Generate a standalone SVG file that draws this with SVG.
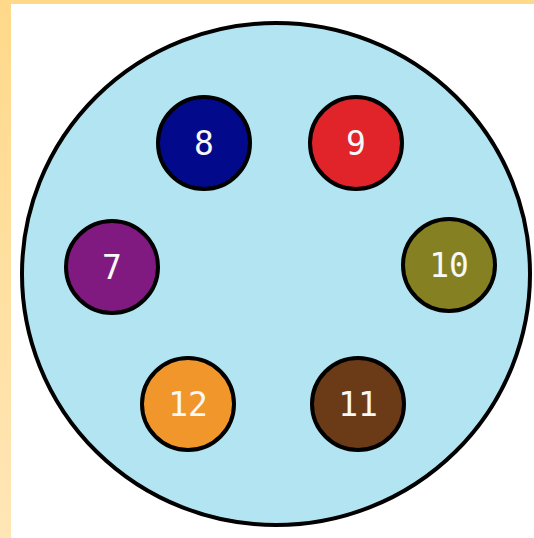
<svg xmlns="http://www.w3.org/2000/svg" width="534" height="538" viewBox="0 0 534 538">
<defs>
<linearGradient id="edge" x1="0" y1="0" x2="0" y2="1">
<stop offset="0" stop-color="#FFD98A"/>
<stop offset="1" stop-color="#FFE6B6"/>
</linearGradient>
<style>
.n circle{stroke:#000;stroke-width:4}
.n text{font-family:"DejaVu Sans Mono",monospace;font-size:33px;fill:#F8F8F8;text-anchor:middle;dominant-baseline:central}
</style>
</defs>
<rect x="0" y="0" width="534" height="538" fill="#FFFFFF"/>
<rect x="0" y="0" width="534" height="4" fill="#FFD98A"/>
<rect x="0" y="0" width="11" height="538" fill="url(#edge)"/>
<g id="outer">
<ellipse cx="276" cy="274" rx="254" ry="251" fill="#B2E5F1" stroke="#000" stroke-width="4"/>
</g>
<g id="connectors"></g>
<g id="n8" class="n"><circle cx="204" cy="143" r="46" fill="#020A8B"/><text x="204" y="143">8</text></g>
<g id="n9" class="n"><circle cx="356" cy="143" r="46" fill="#E0242A"/><text x="356" y="143">9</text></g>
<g id="n7" class="n"><circle cx="112" cy="267" r="46" fill="#801A80"/><text x="112" y="267">7</text></g>
<g id="n10" class="n"><circle cx="449" cy="265" r="46" fill="#858022"/><text x="449" y="265">10</text></g>
<g id="n12" class="n"><circle cx="188" cy="404" r="46" fill="#F0962B"/><text x="188" y="404">12</text></g>
<g id="n11" class="n"><circle cx="358" cy="404" r="46" fill="#6B3A17"/><text x="358" y="404">11</text></g>
</svg>
